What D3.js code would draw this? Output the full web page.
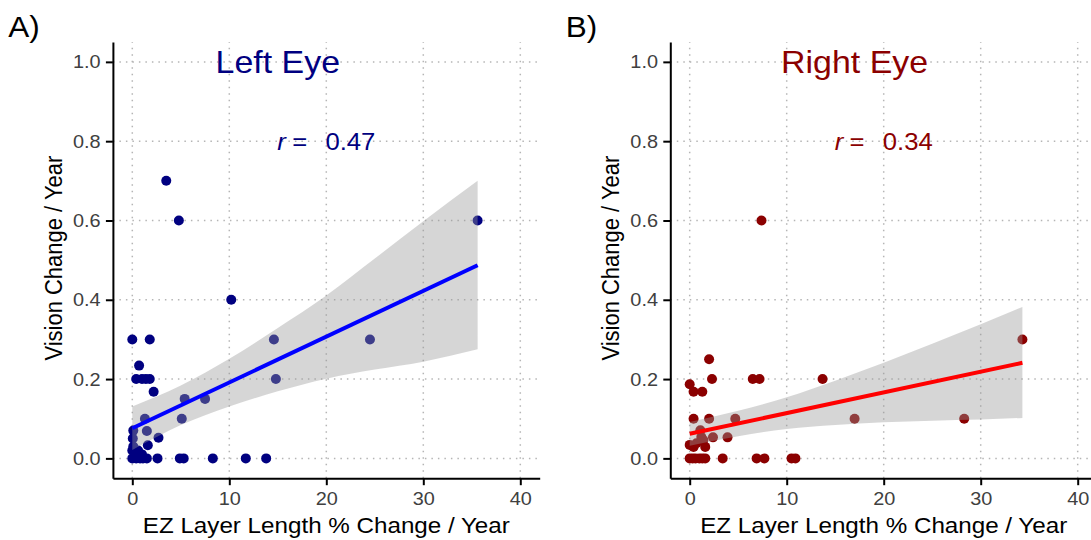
<!DOCTYPE html>
<html>
<head>
<meta charset="utf-8">
<script src="https://cdn.jsdelivr.net/npm/d3@7"></script>
<style>
  body { margin: 0; background: #fff; }
  svg { display: block; font-family: "Liberation Sans", Arial, sans-serif; }
</style>
</head>
<body>
<div id="chart"></div>
<script>
// values
var xTicks = [0, 10, 20, 30, 40];
var yTicks = [0, 0.2, 0.4, 0.6, 0.8, 1.0];

var leftPoints = [
  [0, 0.3], [1.8, 0.3], [3.5, 0.7], [4.8, 0.6], [35.6, 0.6], [10.2, 0.4],
  [14.6, 0.3], [24.5, 0.3], [14.8, 0.2], [0.7, 0.234], [0.4, 0.2], [1.0, 0.2],
  [1.4, 0.2], [1.8, 0.2], [2.2, 0.168], [5.4, 0.15], [7.5, 0.15], [5.1, 0.1],
  [1.3, 0.1], [1.5, 0.069], [2.7, 0.052], [1.6, 0.033], [0.1, 0.07], [0.05, 0.05],
  [0.1, 0.03], [0.0, 0.02], [0.3, 0.01], [0.6, 0.02], [1.0, 0.01],
  [0, 0], [0.4, 0], [0.8, 0], [1.1, 0], [1.5, 0], [2.6, 0], [4.9, 0], [5.3, 0],
  [8.3, 0], [11.7, 0], [13.8, 0]
];
var rightPoints = [
  [7.4, 0.6], [6.5, 0.2], [7.2, 0.2], [13.7, 0.2], [17.0, 0.1], [28.3, 0.1],
  [34.3, 0.3], [2.0, 0.25], [2.3, 0.2], [0.0, 0.187], [0.4, 0.168], [1.3, 0.168],
  [0.4, 0.1], [2.0, 0.1], [4.7, 0.1], [3.9, 0.053], [2.4, 0.053], [1.1, 0.071],
  [1.2, 0.054], [1.4, 0.046], [0.7, 0.038], [0.0, 0.034], [0.4, 0.029], [1.6, 0.029],
  [0, 0], [0.3, 0], [0.6, 0], [1.0, 0], [1.3, 0], [1.6, 0], [3.4, 0], [6.9, 0],
  [7.7, 0], [10.5, 0], [10.9, 0]
];

// fitted line ends and confidence band, as seen in the picture
var leftFit = [[0, 0.076], [35.6, 0.487]];
var leftBandX = [0, 5, 10, 15, 20, 25, 30, 35.6];
var leftBandLo = [0.021, 0.084, 0.131, 0.169, 0.201, 0.224, 0.244, 0.275];
var leftBandHi = [0.131, 0.184, 0.251, 0.329, 0.411, 0.504, 0.598, 0.700];

var rightFit = [[0, 0.062], [34.3, 0.241]];
var rightBandX = [0, 5, 10, 15, 20, 25, 30, 34.3];
var rightBandLo = [0.032, 0.056, 0.074, 0.084, 0.091, 0.095, 0.098, 0.102];
var rightBandHi = [0.092, 0.120, 0.154, 0.196, 0.241, 0.289, 0.338, 0.382];

var W = 1091, H = 540;
var svg = d3.select("#chart").append("svg")
  .attr("width", W)
  .attr("height", H);

var font = "'Liberation Sans', Arial, sans-serif";

function drawPanel(p) {
  var x = d3.scaleLinear().domain([-2, 42]).range([p.left, p.left + 426.8]);
  var y = d3.scaleLinear().domain([-0.05, 1.05]).range([478.2, 42.05]);
  var g = svg.append("g");

  // dotted grid
  g.selectAll(".vgrid").data(xTicks).enter().append("line")
    .attr("x1", function(d) { return x(d); }).attr("x2", function(d) { return x(d); })
    .attr("y1", y.range()[0]).attr("y2", y.range()[1])
    .style("stroke", "#b5b5b5").style("stroke-width", 1.5)
    .style("stroke-dasharray", "1.5,5");
  g.selectAll(".hgrid").data(yTicks).enter().append("line")
    .attr("y1", function(d) { return y(d); }).attr("y2", function(d) { return y(d); })
    .attr("x1", x.range()[0]).attr("x2", x.range()[1])
    .style("stroke", "#b5b5b5").style("stroke-width", 1.5)
    .style("stroke-dasharray", "1.5,5");

  // points first, then the ribbon over them (like geom_smooth)
  g.selectAll(".pt").data(p.points).enter().append("circle")
    .attr("cx", function(d) { return x(d[0]); })
    .attr("cy", function(d) { return y(d[1]); })
    .attr("r", 5)
    .style("fill", p.color);

  var band = d3.area()
    .x(function(d, i) { return x(p.bandX[i]); })
    .y0(function(d, i) { return y(p.bandLo[i]); })
    .y1(function(d, i) { return y(p.bandHi[i]); })
    .curve(d3.curveMonotoneX);
  g.append("path")
    .attr("d", band(p.bandX))
    .style("fill", "#999999").style("fill-opacity", 0.4);

  g.append("line")
    .attr("x1", x(p.fit[0][0])).attr("y1", y(p.fit[0][1]))
    .attr("x2", x(p.fit[1][0])).attr("y2", y(p.fit[1][1]))
    .style("stroke", p.lineColor).style("stroke-width", 4);

  // axes
  var xAxis = g.append("g").attr("transform", "translate(0," + y.range()[0] + ")")
    .call(d3.axisBottom(x).tickValues(xTicks).tickSize(7).tickSizeOuter(0).tickPadding(6.8));
  var yAxis = g.append("g").attr("transform", "translate(" + x.range()[0] + ",0)")
    .call(d3.axisLeft(y).tickValues(yTicks).tickSize(7).tickSizeOuter(0).tickPadding(4.5)
      .tickFormat(d3.format(".1f")));
  [xAxis, yAxis].forEach(function(a) {
    a.select(".domain").style("stroke", "#000").style("stroke-width", 2);
    a.selectAll(".tick line").style("stroke", "#000").style("stroke-width", 2);
    a.selectAll(".tick text")
      .style("font-family", font).style("font-size", "18.6px").style("fill", "#404040")
      .attr("transform", "scale(1.07,1)");
  });

  // axis titles
  g.append("text")
    .attr("transform", "translate(" + ((x.range()[0] + x.range()[1]) / 2) + ",533.3) scale(1.1,1)")
    .attr("text-anchor", "middle")
    .style("font-size", "22px").style("fill", "#000")
    .text("EZ Layer Length % Change / Year");
  g.append("text")
    .attr("transform", "translate(" + (x.range()[0] - 51.2) + "," + ((y.range()[0] + y.range()[1]) / 2 - 2) + ") scale(1.12,1) rotate(-90)")
    .attr("text-anchor", "middle")
    .style("font-size", "22px").style("fill", "#000")
    .text("Vision Change / Year");

  // panel title and r
  g.append("text")
    .attr("transform", "translate(" + x(p.titleX) + "," + (y(1.0) + 0.358 * 32) + ") scale(1.06,1)")
    .attr("text-anchor", "middle")
    .style("font-size", "32px").style("fill", p.color)
    .text(p.title);

  var rt = g.append("text")
    .attr("transform", "translate(" + x(20) + "," + (y(0.8) + 0.358 * 24) + ") scale(1.07,1)")
    .attr("text-anchor", "middle")
    .style("font-size", "24px").style("fill", p.color);
  rt.append("tspan").style("font-style", "italic").text("r");
  rt.append("tspan").attr("dx", 6).text("=");
  rt.append("tspan").attr("dx", 17).text(p.r);

  // panel tag
  g.append("text")
    .attr("transform", "translate(" + (x.range()[0] - 104.6) + ",36.7) scale(1.05,1)")
    .style("font-size", "30px").style("fill", "#000")
    .text(p.tag);
}

drawPanel({
  left: 112.9, points: leftPoints, color: "#000080", lineColor: "#0000ff",
  fit: leftFit, bandX: leftBandX, bandLo: leftBandLo, bandHi: leftBandHi,
  title: "Left Eye", titleX: 15, r: "0.47", tag: "A)"
});
drawPanel({
  left: 670.3, points: rightPoints, color: "#8b0000", lineColor: "#ff0000",
  fit: rightFit, bandX: rightBandX, bandLo: rightBandLo, bandHi: rightBandHi,
  title: "Right Eye", titleX: 17, r: "0.34", tag: "B)"
});
</script>
</body>
</html>
